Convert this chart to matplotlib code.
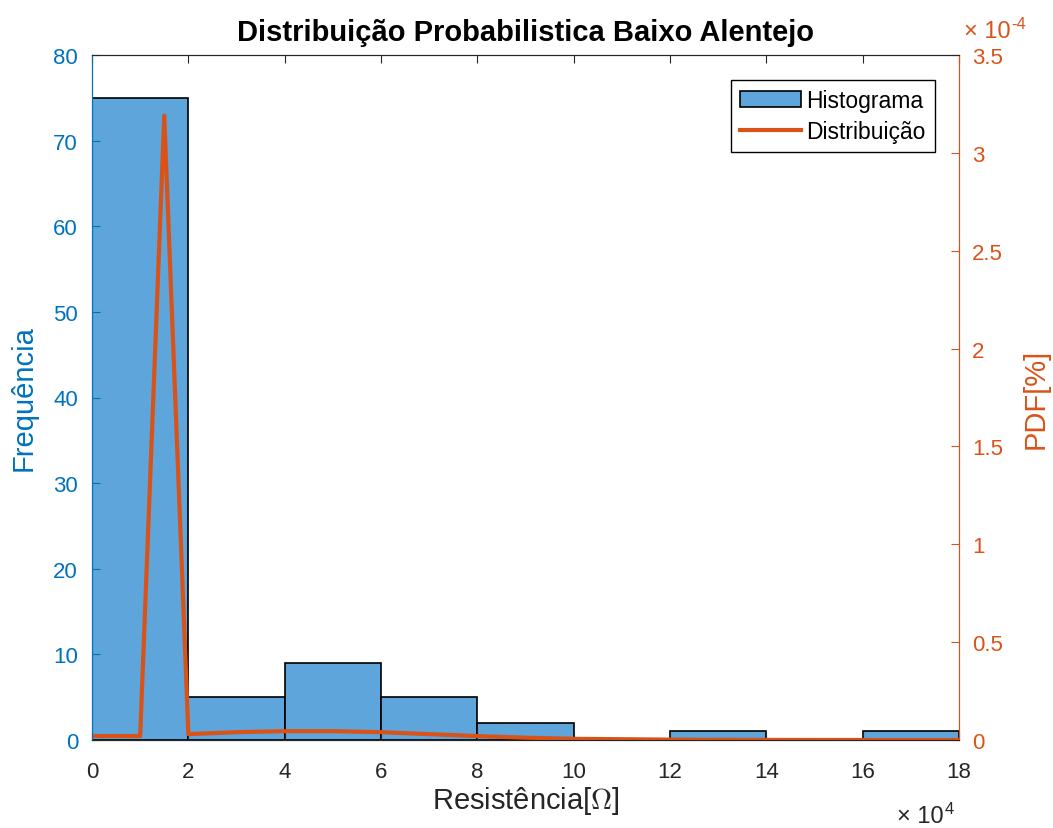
import matplotlib
matplotlib.use('Agg')
import matplotlib.pyplot as plt
import matplotlib.ticker as plticker

plt.rcParams['font.family'] = ['Liberation Sans', 'DejaVu Sans']
plt.rcParams['mathtext.fontset'] = 'cm'

# Histogram of measured resistances (ohm), bin width 2e4
bin_edges = [0, 20000, 40000, 60000, 80000, 100000, 120000, 140000, 160000, 180000]
counts = [75, 5, 9, 5, 2, 0, 1, 0, 1]

# Fitted probability density
pdf_x = [0, 10000, 15000, 20000, 30000, 40000, 50000, 60000, 70000, 80000,
         90000, 100000, 120000, 140000, 160000, 180000]
pdf_y = [0.02e-4, 0.02e-4, 3.19e-4, 0.03e-4, 0.04e-4, 0.045e-4, 0.045e-4, 0.04e-4,
         0.03e-4, 0.02e-4, 0.012e-4, 0.006e-4, 0.002e-4, 0.0005e-4, 0.0, 0.0]

BLUE = '#0072BD'
ORANGE = '#D95319'
GREY = '#262626'
BAR = '#5DA5DA'

W, H = 1053, 829
fig = plt.figure(figsize=(W / 100, H / 100), dpi=100)
ax = fig.add_axes([92 / W, 1 - 741 / H, 867 / W, 685 / H])
ax2 = ax.twinx()

widths = [b - a for a, b in zip(bin_edges[:-1], bin_edges[1:])]
bars = ax.bar(bin_edges[:-1], counts, width=widths, align='edge',
              color=BAR, edgecolor='black', linewidth=1.2, label='Histograma')
line, = ax2.plot(pdf_x, pdf_y, color=ORANGE, linewidth=3, label='Distribuição')

ax.set_xlim(0, 180000)
ax.set_ylim(0, 80)
ax2.set_ylim(0, 3.5e-4)

ax.xaxis.set_major_locator(plticker.MultipleLocator(20000))
ax.xaxis.set_major_formatter(plticker.FuncFormatter(lambda v, p: '%g' % (v / 1e4)))
ax.yaxis.set_major_locator(plticker.MultipleLocator(10))
ax2.yaxis.set_major_locator(plticker.MultipleLocator(0.5e-4))
ax2.yaxis.set_major_formatter(plticker.FuncFormatter(lambda v, p: '%g' % round(v / 1e-4, 2)))

ax.tick_params(axis='x', direction='in', top=True, colors=GREY, labelsize=16,
               length=6, pad=15)
ax.tick_params(axis='y', direction='in', colors=BLUE, labelsize=16, length=6, pad=10)
ax2.tick_params(axis='y', direction='in', colors=ORANGE, labelsize=16, length=6, pad=9.5)

for a in (ax, ax2):
    a.spines['top'].set_color(GREY)
    a.spines['bottom'].set_color(GREY)
    a.spines['left'].set_color(BLUE)
    a.spines['right'].set_color(ORANGE)

ax.set_xlabel(r'Resistência[$\Omega$]', fontsize=21, color=GREY)
ax.xaxis.set_label_coords(0.5, -(785 - 741) / 685)
ax.set_ylabel('Frequência', fontsize=21, color=BLUE)
ax.yaxis.set_label_coords((38 - 92) / 867, 0.5)
ax2.set_ylabel('PDF[%]', fontsize=21, color=ORANGE)
ax2.yaxis.set_label_coords((1022 - 92) / 867, 0.5)
ax.set_title('Distribuição Probabilistica Baixo Alentejo', fontsize=21,
             fontweight='bold', color='black', pad=11)


def power_label(x, y_base, exponent, color):
    # "× 10" followed by a raised exponent
    base = fig.text(x / W, 1 - y_base / H, '× 10', fontsize=17, color=color,
                    va='baseline')
    fig.canvas.draw()
    bb = base.get_window_extent()
    fig.text((bb.x1 + 1) / W, (bb.y1 + 4) / H, exponent, fontsize=12,
             color=color, va='top')


power_label(897, 823, '4', GREY)
power_label(964, 38, '-4', ORANGE)

leg = ax.legend([bars, line], ['Histograma', 'Distribuição'], loc='upper right',
                bbox_to_anchor=((935 - 92) / 867, (741 - 81) / 685),
                fontsize=16.5, fancybox=False, framealpha=1, edgecolor='black',
                handlelength=2.65, handletextpad=0.25, borderpad=0.4,
                labelspacing=0.35, borderaxespad=0)
leg.get_frame().set_linewidth(1.0)

fig.savefig('out.png', dpi=100)
